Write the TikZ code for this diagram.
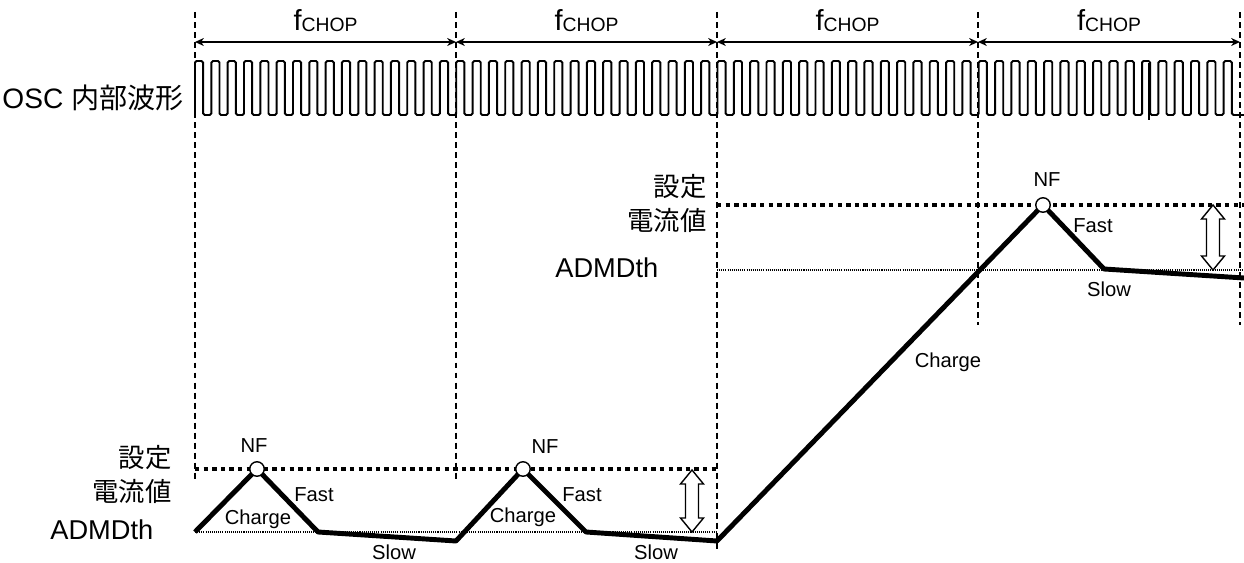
\documentclass[tikz,border=0pt]{standalone}
\usepackage{fontspec}
\setmainfont{Liberation Sans}
\newfontfamily\jpfont{Noto Sans CJK JP}
\usepackage{tikz}
\usetikzlibrary{arrows.meta}

\tikzset{
  guide/.style={line width=0.7pt, dash pattern=on 3.4pt off 2.3pt},
  period/.style={line width=0.7pt, {Stealth[length=5pt, width=4.5pt, inset=1.5pt]}-{Stealth[length=5pt, width=4.5pt, inset=1.5pt]}},
  osc/.style={line width=1.1pt, rounded corners=0.9pt},
  setlevel/.style={line width=2.3pt, dash pattern=on 2.5pt off 2.4pt},
  thlevel/.style={line width=0.6pt, dash pattern=on 0.6pt off 0.6pt},
  coil/.style={line width=2.8pt, line join=round},
  nfdot/.style={circle, draw, fill=white, line width=0.8pt, inner sep=0pt, minimum size=0.29cm},
  biglbl/.style={font=\fontsize{15.5}{20}\selectfont, inner sep=0pt},
  jplbl/.style={font=\jpfont\fontsize{15}{19.8}\selectfont, align=right, inner sep=0pt},
  smalllbl/.style={font=\fontsize{11.5}{13}\selectfont, inner sep=0pt},
  gaparrow/.pic={
    \draw[line width=0.8pt, fill=white]
      (0,0) -- (11.5,14) -- (6.5,14) -- (6.5,#1-14) -- (11.5,#1-14) -- (0,#1)
      -- (-11.5,#1-14) -- (-6.5,#1-14) -- (-6.5,14) -- (-11.5,14) -- cycle;
  }
}

\begin{document}
\begin{tikzpicture}[x=0.02cm, y=-0.02cm]
\useasboundingbox (0,0) rectangle (1244,563);
% chopping periods
\foreach \x/\b [count=\i from 0] in {195/482, 456/482, 717/552, 978/325, 1240/325} {
  \coordinate (g\i) at (\x,42);
  \draw[guide] (\x,12) -- (\x,\b);
}
\foreach \i/\j in {0/1, 1/2, 2/3, 3/4}
  \draw[period] (g\i) -- (g\j)
    node[biglbl, midway, anchor=base, yshift=6.8pt] (fc\i) {\fontsize{16.5}{20}\selectfont f\raisebox{-0.8pt}{\fontsize{11}{11}\selectfont CHOP}};

% OSC
\node[biglbl, anchor=east] (osclbl) at (184,98) {\fontsize{16}{20}\selectfont OSC {\jpfont\fontsize{16}{20}\selectfont 内部波形}};
\draw[osc] (195,115) \foreach \k in {1,...,64} { -- ++(0,-54) -- ++(8.164,0) -- ++(0,54) -- ++(8.164,0) } -- ++(4,0);
\draw[osc] (1149,63) -- (1149,120);

% levels
\draw[setlevel] (195,469) -- (717,469);
\draw[thlevel] (195,532) -- (717,532);
\draw[setlevel] (717,205) -- (1244,205);
\draw[thlevel] (717,270) -- (1244,270);
\node[jplbl, anchor=east] (set1) at (172,474.5) {設定\\電流値};
\node[jplbl, anchor=east] (set2) at (707,203.5) {設定\\電流値};
\node[biglbl, anchor=base west] (th1) at (50,540) {ADMDth};
\node[biglbl, anchor=base west] (th2) at (555,278) {ADMDth};

% coil current
\coordinate (a0) at (195,532);
\coordinate (p1) at (257,469);
\coordinate (f1) at (318,532);
\coordinate (s1) at (456,541);
\coordinate (p2) at (523,469);
\coordinate (f2) at (586,532);
\coordinate (s2) at (717,541);
\coordinate (p3) at (1043,205);
\coordinate (f3) at (1104,269);
\coordinate (s3) at (1244,278);
\draw[coil] (a0) -- (p1) -- (f1) -- (s1) -- (p2) -- (f2) -- (s2) -- (p3) -- (f3) -- (s3);
\node[nfdot] (nf1) at (p1) {};
\node[nfdot] (nf2) at (p2) {};
\node[nfdot] (nf3) at (p3) {};

\node[smalllbl] (nflbl1) at (254,446) {NF};
\node[smalllbl] (nflbl2) at (545,447) {NF};
\node[smalllbl] (nflbl3) at (1047,180) {NF};
\node[smalllbl] (fast1) at (314,495) {Fast};
\node[smalllbl] (fast2) at (582,495) {Fast};
\node[smalllbl] (fast3) at (1093,226) {Fast};
\node[smalllbl] (chg1) at (258,519) {Charge};
\node[smalllbl] (chg2) at (523,517) {Charge};
\node[smalllbl] (chg3) at (948,362) {Charge};
\node[smalllbl] (slow1) at (394,552) {Slow};
\node[smalllbl] (slow2) at (656,552) {Slow};
\node[smalllbl] (slow3) at (1109,289) {Slow};

\pic at (692,470) {gaparrow=62};
\pic at (1213,205) {gaparrow=65};
\end{tikzpicture}
\end{document}
